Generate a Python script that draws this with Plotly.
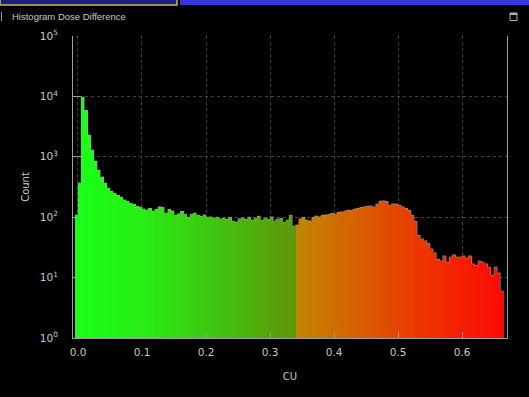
import plotly.graph_objects as go

# Histogram of dose difference (CU), bin width 0.005, first bin centred at -0.0025
bin_width = 0.005
bin_start = -0.0025
counts = [
    110, 370, 9800, 5900, 2300, 1300, 850, 600, 470, 370,
    305, 270, 250, 232, 215, 195, 185, 172, 165, 152,
    148, 138, 132, 140, 128, 135, 150, 145, 118, 135,
    128, 108, 115, 125, 112, 100, 112, 118, 108, 103,
    110, 100, 102, 98, 100, 95, 97, 92, 100, 86,
    84, 95, 98, 92, 100, 90, 96, 104, 90, 98,
    92, 102, 88, 94, 96, 82, 90, 108, 72, 75,
    95, 100, 90, 88, 100, 105, 102, 108, 110, 112,
    116, 114, 120, 124, 128, 132, 130, 136, 140, 145,
    150, 152, 155, 150, 165, 185, 188, 182, 160, 168,
    165, 158, 150, 140, 130, 108, 85, 50, 44, 41,
    37, 30, 26, 20, 19, 23, 18, 22, 24, 22,
    22, 23, 21, 23, 17, 16, 19, 18, 17, 15,
    11, 15, 12, 6,
]
centers = [bin_start + bin_width * i for i in range(len(counts))]

x_tick_vals = [0.0, 0.1, 0.2, 0.3, 0.4, 0.5, 0.6]
x_tick_text = ["0.0", "0.1", "0.2", "0.3", "0.4", "0.5", "0.6"]
y_tick_vals = [1, 10, 100, 1000, 10000, 100000]
y_tick_text = ["10<sup>0</sup>", "10<sup>1</sup>", "10<sup>2</sup>",
               "10<sup>3</sup>", "10<sup>4</sup>", "10<sup>5</sup>"]

# Two-part colour ramp: green half and orange-to-red half
split_value = 0.34
green_stops = [(0.0, (25, 255, 25)), (0.1, (40, 238, 22)),
               (0.2, (60, 202, 15)), (0.34, (95, 150, 10))]
red_stops = [(0.34, (192, 135, 0)), (0.45, (218, 90, 0)),
             (0.55, (238, 48, 0)), (0.67, (255, 8, 5))]


def ramp(v, stops):
    if v <= stops[0][0]:
        return stops[0][1]
    for (v0, c0), (v1, c1) in zip(stops[:-1], stops[1:]):
        if v <= v1:
            t = (v - v0) / (v1 - v0)
            return tuple(round(a + (b - a) * t) for a, b in zip(c0, c1))
    return stops[-1][1]


bar_colors = []
for c in centers:
    rgb = ramp(c, green_stops if c < split_value else red_stops)
    bar_colors.append("rgb(%d,%d,%d)" % rgb)

# Plot-area geometry (pixels)
W, H = 529, 397
L, R, T, B = 73, 22, 36, 59
pw, ph = W - L - R, H - T - B


def px(x):
    return (x - L) / pw


def py(y):
    return (H - B - y) / ph


fig = go.Figure()
fig.add_trace(go.Bar(
    x=centers, y=counts, width=bin_width,
    marker=dict(color=bar_colors, line=dict(width=0)),
    hoverinfo="x+y", showlegend=False,
))
# light outline along the top of the histogram
edges = [c - bin_width / 2 for c in centers] + [centers[-1] + bin_width / 2]
fig.add_trace(go.Scatter(
    x=edges, y=counts + [counts[-1]], mode="lines",
    line=dict(shape="hv", color="rgba(170,170,170,0.5)", width=1),
    hoverinfo="skip", showlegend=False,
))

axis_color = "#a0a0a0"
grid_color = "#444444"
label_font = dict(family="DejaVu Sans", size=10.5, color="#c8c8c8")

fig.update_layout(
    width=W, height=H,
    margin=dict(l=L, r=R, t=T, b=B, autoexpand=False),
    paper_bgcolor="black", plot_bgcolor="black",
    bargap=0,
    xaxis=dict(
        range=[-0.0078, 0.6703],
        tickvals=x_tick_vals, ticktext=x_tick_text,
        tickfont=label_font, ticks="inside", ticklen=6, tickwidth=1,
        tickcolor=axis_color, ticklabelstandoff=4,
        showline=True, linecolor=axis_color, linewidth=1,
        showgrid=True, gridcolor=grid_color, griddash="dot", gridwidth=1,
        zeroline=False,
        title=dict(text="CU", font=dict(family="DejaVu Sans", size=10, color="#c8c8c8"),
                   standoff=16),
    ),
    yaxis=dict(
        type="log", range=[0, 5],
        tickvals=y_tick_vals, ticktext=y_tick_text,
        tickfont=label_font, ticks="inside", ticklen=8, tickwidth=1,
        tickcolor=axis_color, ticklabelstandoff=12,
        showline=True, linecolor=axis_color, linewidth=1, mirror=True,
        showgrid=True, gridcolor=grid_color, griddash="dot", gridwidth=1,
        zeroline=False,
        title=dict(text="Count", font=dict(family="DejaVu Sans", size=10, color="#c8c8c8"),
                   standoff=8),
    ),
    shapes=[
        # window strip along the top edge
        dict(type="rect", xref="paper", yref="paper",
             x0=px(0), x1=px(177), y0=py(5), y1=py(-1),
             fillcolor="#1c1c8c", line=dict(color="#c8c040", width=1.5)),
        dict(type="rect", xref="paper", yref="paper",
             x0=px(180), x1=px(530), y0=py(5), y1=py(-1),
             fillcolor="#3636e0", line=dict(width=0)),
        # panel marker and maximise icon
        dict(type="line", xref="paper", yref="paper",
             x0=px(1.5), x1=px(1.5), y0=py(12), y1=py(21),
             line=dict(color="#a0a0a0", width=1)),
        dict(type="rect", xref="paper", yref="paper",
             x0=px(510), x1=px(517), y0=py(20.5), y1=py(13),
             line=dict(color="#b0b0b0", width=1)),
        dict(type="line", xref="paper", yref="paper",
             x0=px(510), x1=px(517), y0=py(14), y1=py(14),
             line=dict(color="#b0b0b0", width=2)),
    ],
    annotations=[
        dict(text="Histogram Dose Difference", xref="paper", yref="paper",
             x=px(10), y=py(16.5), xanchor="left", yanchor="middle",
             showarrow=False,
             font=dict(family="Liberation Sans", size=9.5, color="#c8c8c8")),
    ],
)

fig.write_html("out.html")
